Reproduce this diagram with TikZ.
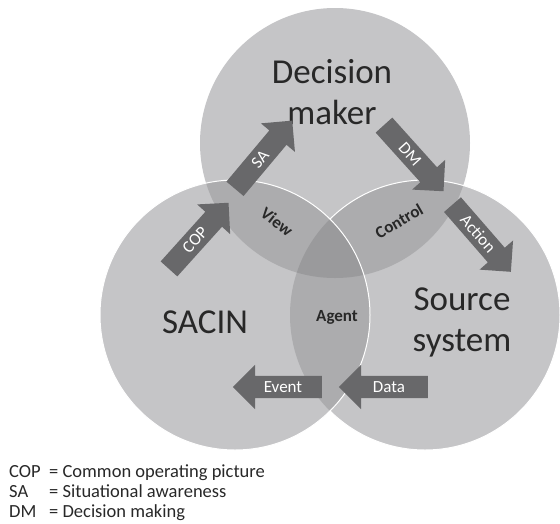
\documentclass[tikz,border=0pt]{standalone}
\usepackage{fontspec}
\setmainfont{Carlito}
\usetikzlibrary{shapes.arrows}
\definecolor{cone}{RGB}{197,197,199}
\definecolor{ctwo}{RGB}{172,172,174}
\definecolor{cthree}{RGB}{154,154,156}
\definecolor{carrow}{RGB}{104,104,106}
\definecolor{ctext}{RGB}{40,40,40}
\begin{document}
\begin{tikzpicture}[x=1pt,y=-1pt,
  blockarrow/.style={single arrow, fill=carrow, draw=none, text=white,
    font=\fontsize{17}{17}\selectfont, minimum height=89pt,
    single arrow head extend=11pt, single arrow tip angle=90,
    inner xsep=4pt, inner ysep=5.5pt, text height=11pt, text depth=0pt},
  biglabel/.style={font=\fontsize{35}{41}\selectfont, text=ctext, align=center},
  zonelabel/.style={font=\bfseries\fontsize{17}{17}\selectfont, text=ctext},
  legend/.style={font=\fontsize{18.5}{20}\selectfont, text=ctext, anchor=base west, inner sep=0pt}]
\useasboundingbox (0,0) rectangle (560,523);
\coordinate (T) at (335,143);
\coordinate (L) at (235,315);
\coordinate (R) at (425,315);
% base fills
\fill[cone] (T) circle (135pt);
\fill[cone] (L) circle (135pt);
\fill[cone] (R) circle (135pt);
% pairwise overlaps
\begin{scope}
  \clip (T) circle (135pt);
  \fill[ctwo] (L) circle (135pt);
  \fill[ctwo] (R) circle (135pt);
\end{scope}
\begin{scope}
  \clip (L) circle (135pt);
  \fill[ctwo] (R) circle (135pt);
\end{scope}
% triple overlap
\begin{scope}
  \clip (T) circle (135pt);
  \clip (L) circle (135pt);
  \fill[cthree] (R) circle (135pt);
\end{scope}
% white outlines
\draw[white, line width=1pt] (L) circle (135pt);
\begin{scope}[even odd rule]
  \clip (-20,-20) rectangle (600,600) (L) circle (135pt);
  \draw[white, line width=1pt] (R) circle (135pt);
\end{scope}
% big labels
\node[biglabel] (dmaker) at (332,92) {Decision\\maker};
\node[biglabel, anchor=base] (sacin) at (205,333) {SACIN};
\node[biglabel] (source) at (462,322) {Source\\system};
% zone labels
\node[zonelabel, rotate=-38] (view) at (277,222) {View};
\node[zonelabel, rotate=30] (ctrl) at (399,221) {Control};
\node[zonelabel] (agent) at (337,317) {Agent};
% block arrows
\node[blockarrow, rotate=48] (cop) at (195,240) {COP};
\node[blockarrow, rotate=50] (sa) at (260,159) {SA};
\node[blockarrow, rotate=-48] (dm) at (410,154) {DM};
\node[blockarrow, rotate=-49] (act) at (478,234) {Action};
\node[blockarrow, shape border rotate=180] (ev) at (283,387) {Event};
\node[blockarrow, shape border rotate=180] (data) at (389,387) {Data};
% legend
\node[legend] (lg1) at (9,477) {\makebox[40pt][l]{COP}= Common operating picture};
\node[legend] (lg2) at (9,497) {\makebox[40pt][l]{SA}= Situational awareness};
\node[legend] (lg3) at (9,517) {\makebox[40pt][l]{DM}= Decision making};
\end{tikzpicture}
\end{document}
